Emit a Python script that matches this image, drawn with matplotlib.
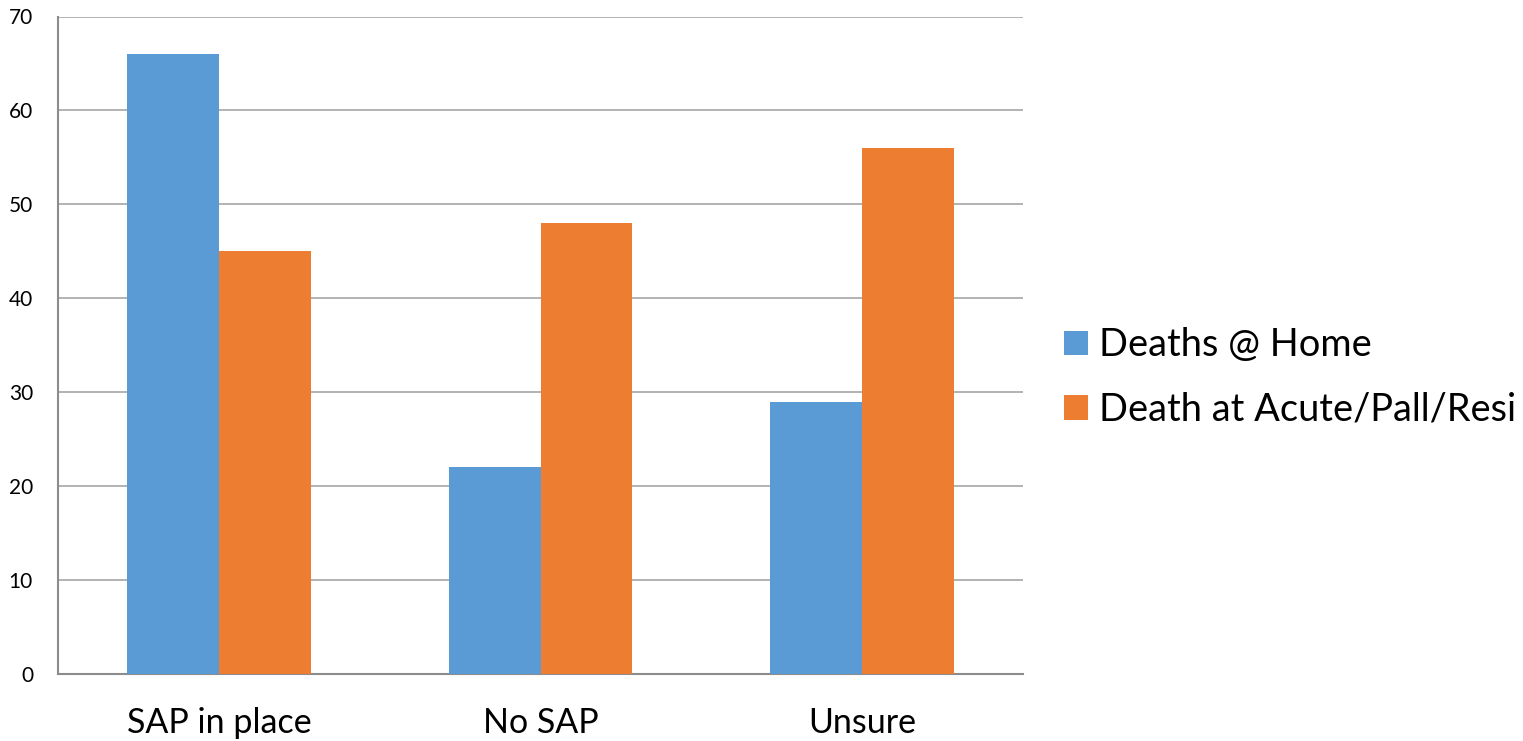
import matplotlib
matplotlib.use("Agg")
import matplotlib.pyplot as plt
import numpy as np

categories = ["SAP in place", "No SAP", "Unsure"]
home_deaths = [66, 22, 29]
facility_deaths = [45, 48, 56]
series_names = ["Deaths @ Home", "Death at Acute/Pall/Resi"]
y_ticks = [0, 10, 20, 30, 40, 50, 60, 70]

plt.rcParams['font.family'] = ['Lato', 'DejaVu Sans']

fig = plt.figure(figsize=(15.23, 7.41), dpi=100)
ax = fig.add_axes([58 / 1523, 1 - 674 / 741, (1023 - 58) / 1523, (674 - 16.5) / 741])

x = np.arange(len(categories))
w = 0.286
ax.bar(x - w / 2, home_deaths, width=w, color="#5B9BD5", label=series_names[0], zorder=3)
ax.bar(x + w / 2, facility_deaths, width=w, color="#ED7D31", label=series_names[1], zorder=3)

ax.set_xlim(-0.5, len(categories) - 0.5)
ax.set_ylim(0, 70)
ax.set_yticks(y_ticks)
ax.set_yticklabels([str(t) for t in y_ticks], fontsize=15)
ax.set_xticks(x)
ax.set_xticklabels(categories, fontsize=24.5)
ax.tick_params(axis='y', length=0, pad=18)
ax.tick_params(axis='x', length=0, pad=24)

ax.yaxis.grid(True, color="#A6A6A6", linewidth=1.2, zorder=0)
for s in ["top", "right"]:
    ax.spines[s].set_visible(False)
for s in ["left", "bottom"]:
    ax.spines[s].set_color("#8C8C8C")
    ax.spines[s].set_linewidth(1.5)

ax.legend(loc="center left", bbox_to_anchor=(1.0425, 0.451), frameon=False,
          fontsize=27.4, handlelength=0.63, handleheight=0.63, handletextpad=0.3,
          labelspacing=0.74, borderaxespad=0, borderpad=0)

fig.savefig("out.png", dpi=100)
